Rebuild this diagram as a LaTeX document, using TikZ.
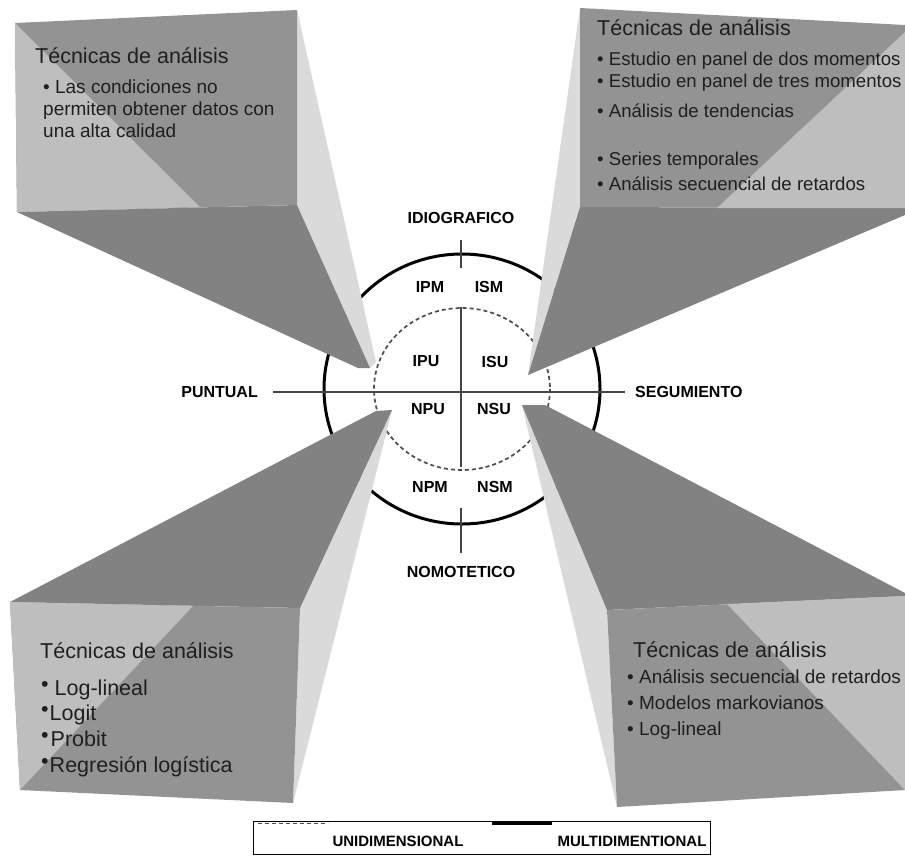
\documentclass[tikz,border=0pt]{standalone}
\usepackage{fontspec}
\setmainfont{Liberation Sans}
\usetikzlibrary{positioning}
\definecolor{frontdark}{HTML}{939393}
\definecolor{frontlight}{HTML}{BEBEBE}
\definecolor{sidedark}{HTML}{828282}
\definecolor{sidelight}{HTML}{DADADA}
\definecolor{axisgray}{HTML}{454545}
\tikzset{axlab/.style={font=\bfseries\fontsize{16}{18}\selectfont,inner sep=0pt},
	 quad/.style={font=\bfseries\fontsize{16}{18}\selectfont,inner sep=0pt},
	 tectitle/.style={font=\fontsize{21.5}{24}\selectfont,anchor=base west,inner sep=0pt,text=black!88},
	 teclist/.style={font=\fontsize{19}{22}\selectfont,anchor=north west,align=left,inner sep=0pt,text=black!88},
	 leg/.style={font=\bfseries\fontsize{15}{17}\selectfont,inner sep=0pt},
	 node distance = 1
	 }

\begin{document}
\begin{tikzpicture}[x=1pt,y=-1pt,dim/.style={dash pattern=on 4pt off 3pt,line width=1.7pt,draw=black!70}]
\useasboundingbox (0,0) rectangle (905,855);
\coordinate (o) at (462,389);
\draw[line width=3pt] (o) ellipse [x radius=138,y radius=135];
\draw[dim] (o) ellipse [x radius=88,y radius=81];
\coordinate (pw) at (273,392); \coordinate (pe) at (625,392);
\coordinate (idt) at (461,240); \coordinate (idb) at (461,268);
\coordinate (ct) at (461,307); \coordinate (cb) at (461,467);
\coordinate (nmt) at (461,508); \coordinate (nmb) at (461,553);
\draw[axisgray,line width=1.4pt] (pw) -- (pe);
\draw[axisgray,line width=1.4pt] (idt) -- (idb) (ct) -- (cb) (nmt) -- (nmb);

\fill[sidelight] (297,10) -- (376,362) -- (370,368) -- (297,205) -- cycle;
\fill[sidedark] (17,212) -- (297,205) -- (370,368) -- (358,368) -- cycle;
\fill[frontdark] (15,23) -- (297,10) -- (297,205) -- (17,212) -- cycle;
\fill[frontlight] (15,23) -- (200,207) -- (17,212) -- cycle;

\fill[sidelight] (580,8) -- (580,207) -- (528,375) -- cycle;
\fill[sidedark] (580,207) -- (905,208) -- (905,215) -- (528,375) -- cycle;
\fill[frontdark] (580,8) -- (905,25) -- (905,208) -- (580,207) -- cycle;
\fill[frontlight] (905,32) -- (905,208) -- (717,208) -- cycle;

\fill[sidelight] (392,410) -- (300,608) -- (293,803) -- cycle;
\fill[sidedark] (10,602) -- (376,411) -- (392,410) -- (300,608) -- cycle;
\fill[frontdark] (10,602) -- (300,608) -- (293,803) -- (20,790) -- cycle;
\fill[frontlight] (10,602) -- (193,606) -- (20,790) -- cycle;

\fill[sidelight] (522,405) -- (607,610) -- (617,807) -- cycle;
\fill[sidedark] (522,405) -- (545,405) -- (905,593) -- (905,596) -- (607,610) -- cycle;
\fill[frontdark] (607,610) -- (905,596) -- (905,790) -- (617,807) -- cycle;
\fill[frontlight] (727,604) -- (905,596) -- (905,790) -- cycle;

\node[axlab] (idio) [above=16pt of idt] {IDIOGRAFICO};
\node[axlab] (nomo) [below=13pt of nmb] {NOMOTETICO};
\node[axlab] (punt) [left=15pt of pw] {PUNTUAL};
\node[axlab] (segu) [right=10pt of pe] {SEGUMIENTO};
\node[quad] (ipm) at (430,287) {IPM};
\node[quad] (ism) at (489,287) {ISM};
\node[quad] (ipu) at (426,361) {IPU};
\node[quad] (isu) at (495,362) {ISU};
\node[quad] (npu) at (428,409) {NPU};
\node[quad] (nsu) at (494,409) {NSU};
\node[quad] (npm) at (430,487) {NPM};
\node[quad] (nsm) at (495,487) {NSM};

\node[tectitle] (tit1) at (35,63) {Técnicas de análisis};
\node[teclist,font=\fontsize{19}{21.7}\selectfont] (lst1) at (43,78.6)
  {\strut\textbullet{} Las condiciones no\\ permiten obtener datos con\\ una alta calidad};
\node[tectitle] (tit2) at (597,35) {Técnicas de análisis};
\node[teclist,font=\fontsize{18.6}{22}\selectfont] (lst2) at (597,49.6)
  {\strut\textbullet{} Estudio en panel de dos momentos\\
   \textbullet{} Estudio en panel de tres momentos\\[8pt]
   \textbullet{} Análisis de tendencias\\[26pt]
   \textbullet{} Series temporales\\[3pt]
   \textbullet{} Análisis secuencial de retardos};
\node[tectitle] (tit3) at (40,658) {Técnicas de análisis};
\node[teclist,font=\fontsize{21.5}{25.7}\selectfont] (lst3) at (41,677)
  {\strut\raisebox{4pt}{\textbullet}\hspace{6pt}Log-lineal\\
   \raisebox{4pt}{\textbullet}\hspace{1pt}Logit\\
   \raisebox{4pt}{\textbullet}\hspace{2pt}Probit\\
   \raisebox{4pt}{\textbullet}\hspace{1pt}Regresión logística};
\node[tectitle] (tit4) at (633,657) {Técnicas de análisis};
\node[teclist,font=\fontsize{19}{26}\selectfont] (lst4) at (627,664.8)
  {\strut\textbullet{} Análisis secuencial de retardos\\
   \textbullet{} Modelos markovianos\\
   \textbullet{} Log-lineal};

\node[draw,line width=0.8pt,minimum width=457pt,minimum height=33pt,inner sep=0pt] (legend) at (481.5,837.5) {};
\draw[dim,line width=1.3pt] (legend.north west) ++(5,3) -- ++(70,0);
\draw[line width=3pt] (legend.north west) ++(239,3) -- ++(60,0);
\node[leg] (uni) at (398,841) {UNIDIMENSIONAL};
\node[leg] (multi) at (632,841) {MULTIDIMENTIONAL};
\end{tikzpicture}
\end{document}
